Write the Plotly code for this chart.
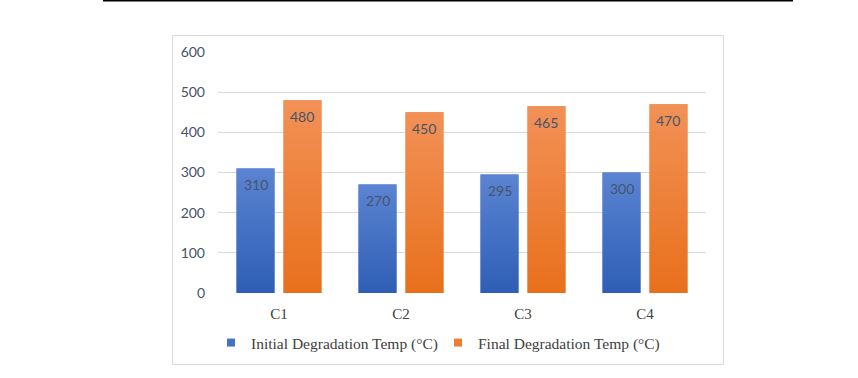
import plotly.graph_objects as go

categories = ["C1", "C2", "C3", "C4"]
initial_temp = [310, 270, 295, 300]
final_temp = [480, 450, 465, 470]
series_names = ["Initial Degradation Temp (°C)", "Final Degradation Temp (°C)"]
y_ticks = [0, 100, 200, 300, 400, 500, 600]

W, H = 858, 378
ML, MR, MT, MB = 218, 152, 52, 85
PW, PH = W - ML - MR, H - MT - MB

def px_x(p):
    return (p - ML) / PW

def px_y(p):
    return (H - MB - p) / PH

BAR_W = 0.311
offsets = [-0.348, 0.037]
solid = ["#4472C4", "#ED7D31"]
grads = [["#2E5EB5", "#5B84D2"], ["#E8701C", "#F29157"]]
label_color = "#44546A"

fig = go.Figure()
xs = list(range(len(categories)))
series = [initial_temp, final_temp]

for s, vals in enumerate(series):
    fig.add_trace(go.Bar(
        x=xs, y=vals, width=BAR_W, offset=offsets[s],
        marker=dict(color=solid[s], line=dict(width=0)),
        name=series_names[s], showlegend=False, hoverinfo="skip",
    ))

# gradient overlays drawn from the same data
for s, vals in enumerate(series):
    for i, v in enumerate(vals):
        x0 = xs[i] + offsets[s]
        x1 = x0 + BAR_W
        fig.add_trace(go.Scatter(
            x=[x0, x1, x1, x0, x0], y=[0, 0, v, v, 0],
            mode="lines", fill="toself", line=dict(width=0),
            fillgradient=dict(type="vertical", start=0, stop=v,
                              colorscale=[[0, grads[s][0]], [1, grads[s][1]]]),
            showlegend=False, hoverinfo="skip",
        ))

# legend proxies
for s in range(2):
    fig.add_trace(go.Scatter(
        x=[None], y=[None], mode="markers", name=series_names[s],
        marker=dict(symbol="square", size=8, color=solid[s], line=dict(width=0)),
    ))

# data labels
for s, vals in enumerate(series):
    for i, v in enumerate(vals):
        fig.add_annotation(
            x=xs[i] + offsets[s] + BAR_W / 2, y=v, text=str(v),
            showarrow=False, yanchor="middle", yshift=-16,
            font=dict(family="Lato", size=14, color=label_color),
        )

shapes = [
    dict(type="rect", xref="paper", yref="paper",
         x0=px_x(172.5), x1=px_x(723.5), y0=px_y(364.5), y1=px_y(35.5),
         line=dict(color="#D9D9D9", width=1), fillcolor="rgba(0,0,0,0)", layer="below"),
    dict(type="line", xref="paper", yref="paper",
         x0=px_x(103), x1=px_x(793), y0=px_y(0.75), y1=px_y(0.75),
         line=dict(color="#000000", width=1.5)),
]

fig.update_layout(
    width=W, height=H,
    margin=dict(l=ML, r=MR, t=MT, b=MB, pad=0),
    paper_bgcolor="white", plot_bgcolor="white",
    barmode="overlay",
    shapes=shapes,
    showlegend=True,
    legend=dict(orientation="h", x=px_x(211), xanchor="left",
                y=px_y(343), yanchor="middle",
                entrywidth=182, entrywidthmode="pixels",
                font=dict(family="Liberation Serif", size=15.5, color="#404040"),
                bgcolor="rgba(0,0,0,0)", itemclick=False),
    xaxis=dict(range=[-0.5, 3.5], tickvals=xs, ticktext=categories,
               showgrid=False, zeroline=False, showline=False, ticks="",
               ticklabelstandoff=10,
               tickfont=dict(family="Liberation Serif", size=15, color="#404040")),
    yaxis=dict(range=[0, 600], tickvals=y_ticks, showgrid=True,
               gridcolor="#D9D9D9", gridwidth=1, zeroline=False, showline=False,
               ticks="", ticklabelstandoff=12,
               tickfont=dict(family="Lato", size=14, color=label_color)),
    hovermode=False,
)

fig.write_html("out.html",
               config={"displayModeBar": False},
               post_script="document.body.style.margin='0';document.body.style.padding='0';")
